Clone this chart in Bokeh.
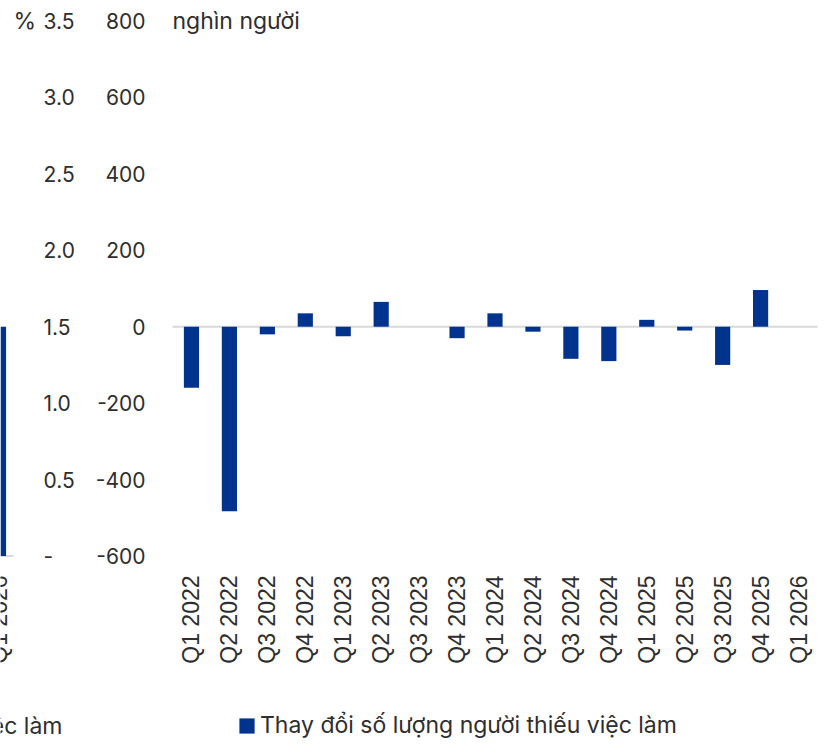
import math
from bokeh.plotting import figure
from bokeh.models import Range1d, Legend, LegendItem, ColumnDataSource
from bokeh.core.properties import value
from bokeh.embed import file_html
from bokeh.resources import INLINE

# ---------------- data ----------------
quarters = ["Q1 2022", "Q2 2022", "Q3 2022", "Q4 2022",
            "Q1 2023", "Q2 2023", "Q3 2023", "Q4 2023",
            "Q1 2024", "Q2 2024", "Q3 2024", "Q4 2024",
            "Q1 2025", "Q2 2025", "Q3 2025", "Q4 2025",
            "Q1 2026"]
change_thousand = [-160, -483, -20, 35,
                   -25, 65, 0, -30,
                   35, -13, -84, -90,
                   18, -10, -100, 96,
                   float("nan")]
count_ticks = [-600, -400, -200, 0, 200, 400, 600, 800]
count_tick_labels = ["-600", "-400", "-200", "0", "200", "400", "600", "800"]
pct_ticks = [0.0, 0.5, 1.0, 1.5, 2.0, 2.5, 3.0, 3.5]
pct_tick_labels = ["-", "0.5", "1.0", "1.5", "2.0", "2.5", "3.0", "3.5"]
count_unit = "nghìn người"
pct_unit = "%"
series_name = "Thay đổi số lượng người thiếu việc làm"

# neighbouring (cropped) chart on the left: only its last quarter is visible
left_quarters = ["Q1 2026"]
left_rate_pct = [1.5]
left_series_name = "Tỷ lệ thiếu việc làm"

# ---------------- style ----------------
BLUE = "#00338D"
TXT = "#2e2e2e"
GRID0 = "#d9d9d9"
YFONT = "Inter"
XFONT = "Liberation Sans"
NUM_FS = "21px"
WORD_FS = "23px"
XFS = "23px"

# ---------------- layout (page pixels) ----------------
W, H = 825, 744
X_CAT_L, X_CAT_R = 172, 817           # category band of the main chart
Y_TOP_TICK, Y_BOT_TICK = 20.5, 555.5  # top / bottom tick rows
X_COUNT_LABEL_RIGHT = 145
X_PCT_LABEL_LEFT = 43
X_PCT_UNIT = 13
X_LEFT_CAT = -2
X_LEFT_LEGEND_RIGHT = 62
X_STUB_RIGHT = 13
Y_XLABEL_TOP = 575
Y_LEFT_LEGEND = 725

n = len(quarters)
ppx = (X_CAT_R - X_CAT_L) / n


def px_x(px):
    return (px - X_CAT_L) / ppx


ppu_c = (Y_BOT_TICK - Y_TOP_TICK) / (count_ticks[-1] - count_ticks[0])
ppu_p = (Y_BOT_TICK - Y_TOP_TICK) / (pct_ticks[-1] - pct_ticks[0])


def py_count(py):
    return count_ticks[-1] - (py - Y_TOP_TICK) / ppu_c


def py_pct(py):
    return pct_ticks[-1] - (py - Y_TOP_TICK) / ppu_p


p = figure(width=W, height=H,
           x_range=Range1d(px_x(0), px_x(W)),
           y_range=Range1d(py_count(H), py_count(0)),
           x_axis_location=None, y_axis_location=None,
           output_backend="svg", toolbar_location=None,
           min_border_left=0, min_border_right=0, min_border_top=0, min_border_bottom=0,
           outline_line_color=None)
p.extra_y_ranges = {"pct": Range1d(py_pct(H), py_pct(0))}
p.grid.visible = False

BAR_W = 0.4
centers = [i + 0.5 for i in range(n)]
src = ColumnDataSource(dict(x=centers, q=quarters, v=change_thousand))
left_x = [px_x(X_LEFT_CAT)]

# zero lines
p.segment(x0=[0], x1=[n], y0=[0], y1=[0], line_color=GRID0, line_width=2)
p.segment(x0=[px_x(0)], x1=[px_x(X_STUB_RIGHT)], y0=[pct_ticks[0]], y1=[pct_ticks[0]],
          y_range_name="pct", line_color=GRID0, line_width=2)

# bars
r = p.vbar(x="x", top="v", bottom=0, width=BAR_W, source=src,
           fill_color=BLUE, line_color=None)
p.vbar(x=left_x, top=left_rate_pct, bottom=0, width=BAR_W, y_range_name="pct",
       fill_color=BLUE, line_color=None)

common = dict(text_color=TXT, text_baseline="middle")

# count axis labels (right aligned)
p.text(x=[px_x(X_COUNT_LABEL_RIGHT)] * len(count_ticks), y=count_ticks,
       text=count_tick_labels, text_align="right",
       text_font=value(YFONT), text_font_size=value(NUM_FS), **common)
# % axis labels (left aligned)
p.text(x=[px_x(X_PCT_LABEL_LEFT)] * len(pct_ticks), y=pct_ticks, y_range_name="pct",
       text=pct_tick_labels, text_align="left",
       text_font=value(YFONT), text_font_size=value(NUM_FS), **common)
# unit captions
p.text(x=[px_x(X_PCT_UNIT)], y=[pct_ticks[-1]], y_range_name="pct", text=[pct_unit],
       text_align="left", text_font=value(YFONT), text_font_size=value(WORD_FS), **common)
p.text(x=[0], y=[count_ticks[-1]], text=[count_unit],
       text_align="left", text_font=value(YFONT), text_font_size=value(WORD_FS), **common)
# category labels, vertical
p.text(x=centers, y=[py_count(Y_XLABEL_TOP)] * n, text=quarters, angle=math.pi / 2,
       text_align="right", text_font=value(XFONT), text_font_size=value(XFS), **common)
p.text(x=left_x, y=[py_count(Y_XLABEL_TOP)], text=left_quarters, angle=math.pi / 2,
       text_align="right", text_font=value(XFONT), text_font_size=value(XFS), **common)
# cropped legend of the neighbouring chart
p.text(x=[px_x(X_LEFT_LEGEND_RIGHT)], y=[py_count(Y_LEFT_LEGEND)], text=[left_series_name],
       text_align="right", text_font=value(YFONT), text_font_size=value(WORD_FS), **common)

# legend (area glyph is drawn inset by 10% of the glyph box -> 19px box gives ~15px square)
legend = Legend(items=[LegendItem(label=series_name, renderers=[r])],
                location=(237, 5), orientation="horizontal",
                glyph_width=19, glyph_height=19, label_height=19, label_standoff=4,
                padding=0, margin=0, spacing=0,
                border_line_color=None, background_fill_alpha=0,
                label_text_font=YFONT, label_text_font_size=WORD_FS,
                label_text_color=TXT)
p.add_layout(legend)

open("out.html", "w").write(file_html(p, INLINE))
